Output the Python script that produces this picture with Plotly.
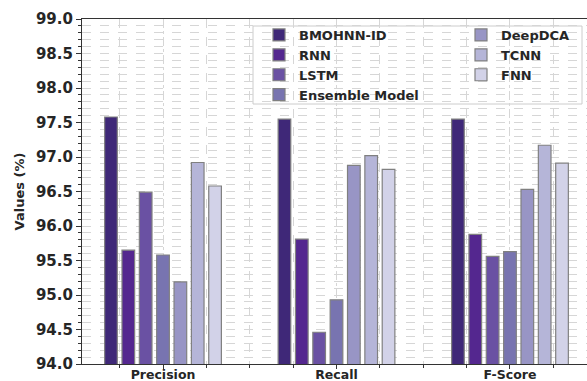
import plotly.graph_objects as go

# Metric categories on the x axis
metrics = ["Precision", "Recall", "F-Score"]

# Model names (legend order)
models = ["BMOHNN-ID", "RNN", "LSTM", "Ensemble Model", "DeepDCA", "TCNN", "FNN"]

# Scores (%) per model, one value per metric
bmohnn_id = [97.58, 97.55, 97.55]
rnn = [95.65, 95.81, 95.88]
lstm = [96.49, 94.46, 95.56]
ensemble_model = [95.58, 94.93, 95.63]
deepdca = [95.19, 96.88, 96.53]
tcnn = [96.92, 97.02, 97.17]
fnn = [96.58, 96.82, 96.91]

series = [bmohnn_id, rnn, lstm, ensemble_model, deepdca, tcnn, fnn]

# Purple sequential palette, darkest first
colors = ["#3f2878", "#54278f", "#6a51a3", "#7874b0", "#9895c5", "#b5b5d8", "#d2d2e8"]

x_pos = list(range(len(metrics)))

fig = go.Figure()
for i, (name, vals, col) in enumerate(zip(models, series, colors)):
    fig.add_trace(go.Bar(
        x=x_pos, y=vals, name=name,
        marker=dict(color=col, line=dict(color="#808080", width=1.2)),
        legend="legend" if i < 4 else "legend2",
    ))

font_fam = "DejaVu Sans"
txt_col = "#262626"
grid_col = "#d6d6d6"

# plot area in pixels: left 82, right 587, top 19, bottom 364
L, R, T, B = 82, 587, 19, 364
W, H = 587, 381


def px(xp):
    return (xp - L) / (R - L)


def py(yp):
    return (B - yp) / (B - T)


legend_font = dict(size=13, family=font_fam, weight="bold", color=txt_col)

fig.update_layout(
    width=W, height=H,
    margin=dict(l=L, r=W - R, t=T, b=H - B, pad=0, autoexpand=False),
    paper_bgcolor="white", plot_bgcolor="white",
    barmode="group", bargap=0.3, bargroupgap=0.27,
    font=dict(family=font_fam, color=txt_col, weight="bold"),
    xaxis=dict(
        range=[-0.467, 2.444], automargin=False,
        tickvals=x_pos, ticktext=metrics,
        tickfont=dict(size=12.5, family=font_fam, weight="bold", color=txt_col),
        ticks="outside", ticklen=4, tickcolor="#333333", ticklabelstandoff=-5,
        showline=True, linecolor="#333333", linewidth=1.2, mirror=True,
        showgrid=True, gridcolor=grid_col, griddash="dashdot", gridwidth=1,
        minor=dict(dtick=0.25, tick0=0, ticks="outside", ticklen=3,
                   tickcolor="#333333", showgrid=True, gridcolor=grid_col,
                   griddash="dash"),
        zeroline=False, fixedrange=True,
    ),
    yaxis=dict(
        range=[94, 99], dtick=0.5, tick0=94, tickformat=".1f", automargin=False,
        tickfont=dict(size=15, family=font_fam, weight="bold", color=txt_col),
        ticks="outside", ticklen=5, tickcolor="#333333",
        showline=True, linecolor="#333333", linewidth=1.2,
        showgrid=True, gridcolor=grid_col, griddash="dash", gridwidth=1,
        minor=dict(dtick=0.1, ticks="outside", ticklen=3, tickcolor="#333333",
                   showgrid=True, gridcolor=grid_col, griddash="dash"),
        title=dict(text="Values (%)", standoff=8,
                   font=dict(size=13, family=font_fam, weight="bold", color=txt_col)),
        zeroline=False, fixedrange=True,
    ),
    legend=dict(
        x=px(259), y=py(20), xanchor="left", yanchor="top",
        bgcolor="rgba(0,0,0,0)", borderwidth=0,
        font=legend_font, itemwidth=30, tracegroupgap=0,
    ),
    legend2=dict(
        x=px(461), y=py(20), xanchor="left", yanchor="top",
        bgcolor="rgba(0,0,0,0)", borderwidth=0,
        font=legend_font, itemwidth=30, tracegroupgap=0,
    ),
    shapes=[dict(
        type="rect", xref="paper", yref="paper",
        x0=px(253), x1=px(582), y0=py(104), y1=py(26),
        fillcolor="rgba(255,255,255,0.85)", line=dict(color="#cccccc", width=1),
        layer="between",
    )],
)

fig.write_html("out.html")
